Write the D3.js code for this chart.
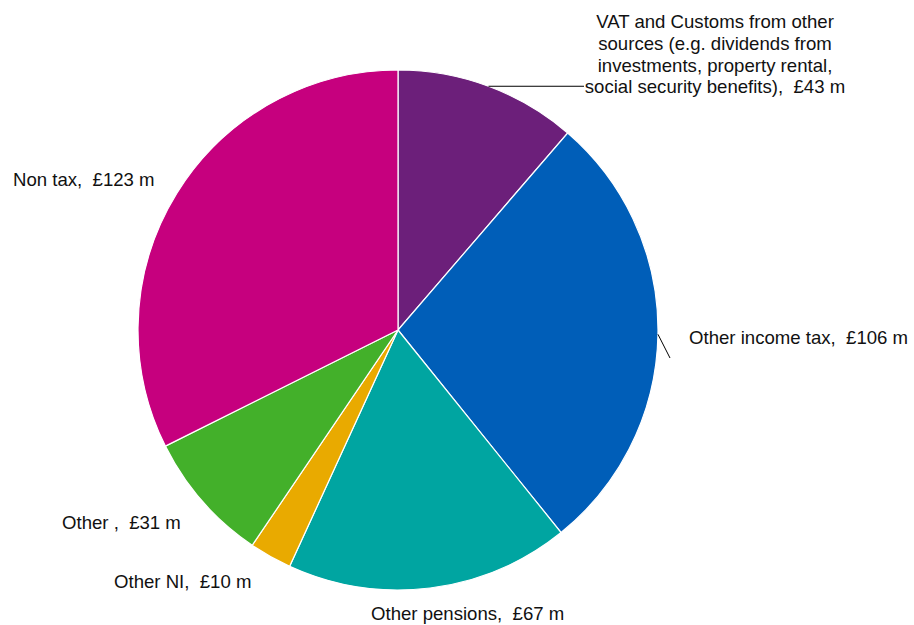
<!DOCTYPE html>
<html>
<head>
<meta charset="utf-8">
<script src="https://cdn.jsdelivr.net/npm/d3@7/dist/d3.min.js"></script>
<style>
  html, body { margin: 0; padding: 0; background: #fff; }
  svg text { font-family: "Liberation Sans", Arial, sans-serif; font-size: 18.6px; fill: #111; }
</style>
</head>
<body>
<svg id="chart" width="914" height="625"></svg>
<script>
// Income sources, £ million, clockwise from 12 o'clock
const categories = [
  "VAT and Customs from other sources (e.g. dividends from investments, property rental, social security benefits)",
  "Other income tax",
  "Other pensions",
  "Other NI",
  "Other ",
  "Non tax"
];
const values = [43, 106, 67, 10, 31, 123];
const colors = ["#6C1F7A", "#005EB8", "#00A5A1", "#E9AA00", "#43B02A", "#C6007E"];

// Label text lines and anchor positions for each slice
const labelLines = [
  ["VAT and Customs from other", "sources (e.g. dividends from", "investments, property rental,", "social security benefits),  £43 m"],
  ["Other income tax,  £106 m"],
  ["Other pensions,  £67 m"],
  ["Other NI,  £10 m"],
  ["Other ,  £31 m"],
  ["Non tax,  £123 m"]
];
const labelPos = [
  { x: 715, y: 21, anchor: "middle" },
  { x: 689, y: 337, anchor: "start" },
  { x: 371, y: 613, anchor: "start" },
  { x: 114, y: 581, anchor: "start" },
  { x: 62, y: 522, anchor: "start" },
  { x: 13, y: 179, anchor: "start" }
];

const svg = d3.select("#chart");
const cx = 398, cy = 330, r = 260;
const g = svg.append("g").attr("transform", `translate(${cx},${cy})`);

const pie = d3.pie().sort(null).value(d => d);
const arcs = pie(values);
const arc = d3.arc().innerRadius(0).outerRadius(r);

g.selectAll("path.slice")
  .data(arcs)
  .join("path")
  .attr("class", "slice")
  .attr("d", arc)
  .attr("fill", (d, i) => colors[i])
  .attr("stroke", "#fff")
  .attr("stroke-width", 1.2);

// Leader lines start at the rim, at each slice's mid angle
const edge = a => [r * Math.sin(a), -r * Math.cos(a)];
const mid = d => (d.startAngle + d.endAngle) / 2;
{
  const [x0, y0] = edge(mid(arcs[0]));
  g.append("line")
    .attr("x1", x0).attr("y1", y0)
    .attr("x2", 584 - cx).attr("y2", y0)
    .attr("stroke", "#000").attr("stroke-width", 1);
}
{
  const [x0, y0] = edge(mid(arcs[1]));
  g.append("line")
    .attr("x1", x0).attr("y1", y0)
    .attr("x2", 670 - cx).attr("y2", 358 - cy)
    .attr("stroke", "#000").attr("stroke-width", 1);
}

// Labels
labelLines.forEach((lines, i) => {
  const p = labelPos[i];
  const t = svg.append("text")
    .attr("x", p.x).attr("y", p.y)
    .attr("text-anchor", p.anchor)
    .attr("dominant-baseline", "central")
    .style("white-space", "pre");
  lines.forEach((ln, j) => {
    t.append("tspan")
      .attr("x", p.x)
      .attr("dy", j === 0 ? 0 : 21.8)
      .text(ln);
  });
});
</script>
</body>
</html>
